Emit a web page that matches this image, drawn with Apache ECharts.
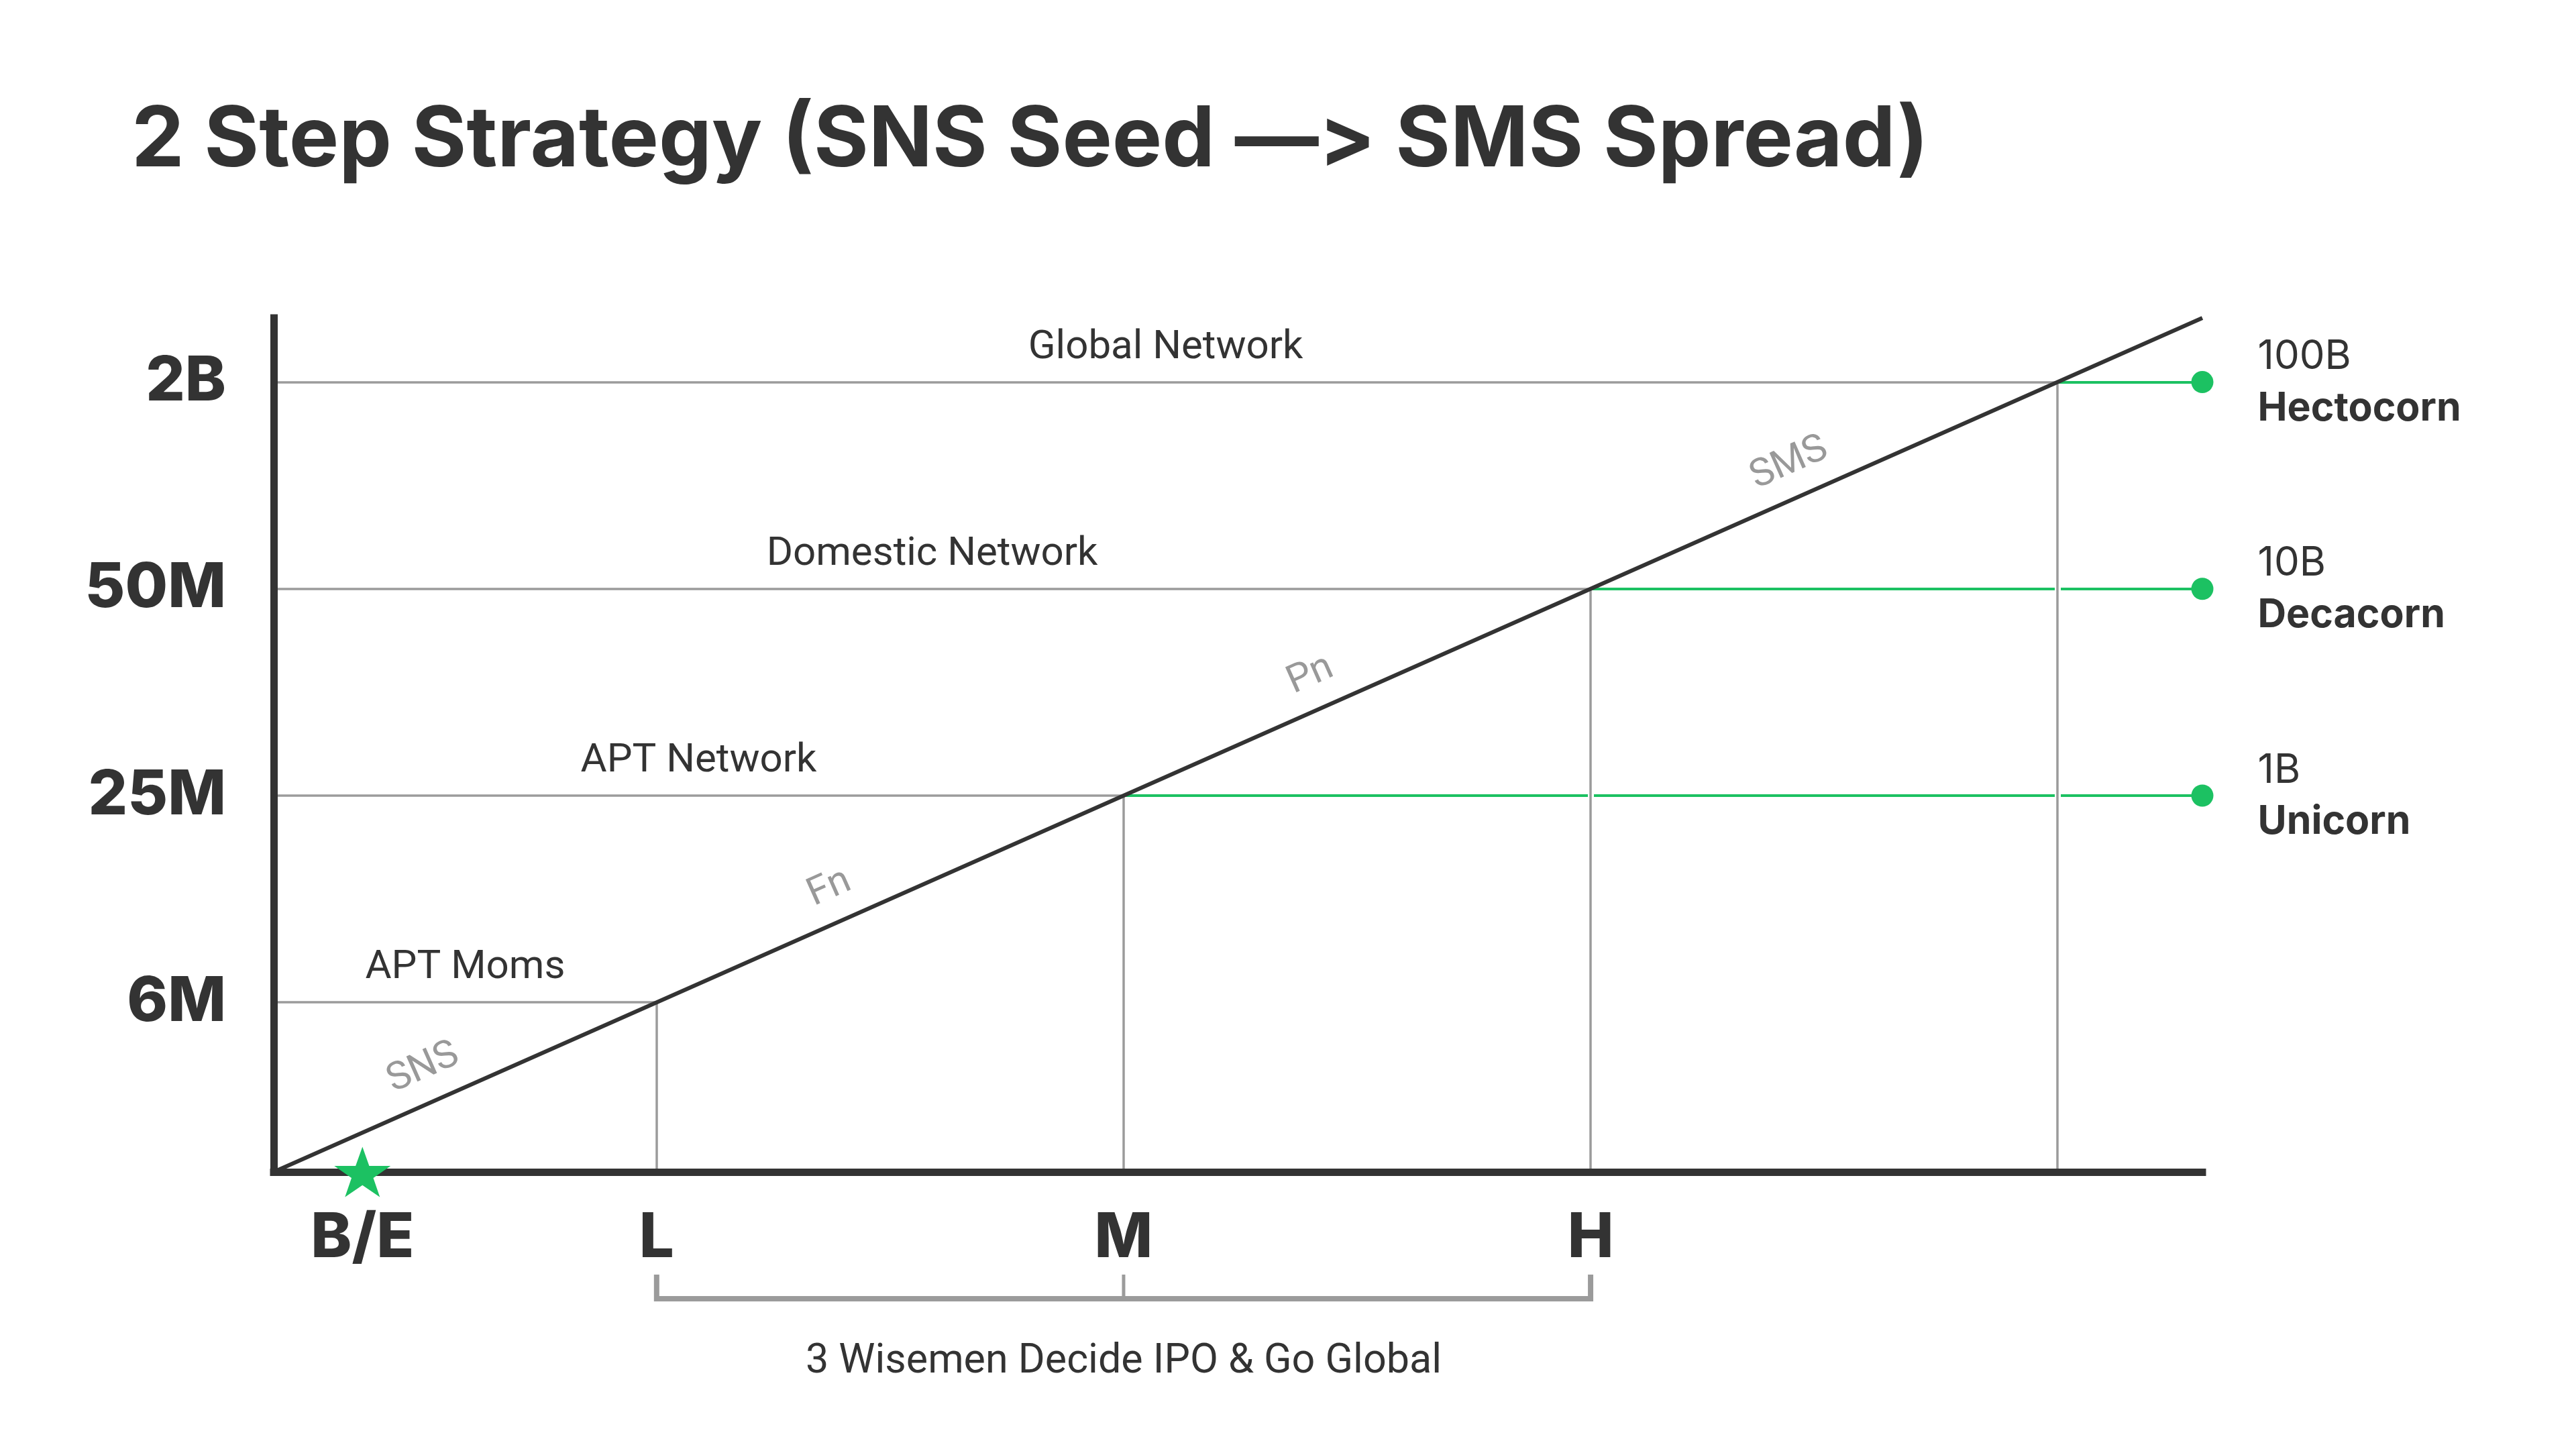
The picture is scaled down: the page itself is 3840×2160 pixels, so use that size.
<!DOCTYPE html>
<html><head><meta charset="utf-8">
<script src="https://cdn.jsdelivr.net/npm/echarts@6/dist/echarts.min.js"></script>
<style>html,body{margin:0;padding:0;background:#fff}#c{width:3840px;height:2160px}</style>
</head><body><div id="c"></div>
<script>
// ---------- data ----------
const titleText = '2 Step Strategy (SNS Seed \u2014\u200C> SMS Spread)';
const stageLabels = ['B/E', 'L', 'M', 'H'];
const stagePositions = [0.37, 1, 2, 3];
const userLevels = ['6M', '25M', '50M', '2B'];
const levelValues = [1, 2, 3, 4];
const networkNames = ['APT Moms', 'APT Network', 'Domestic Network', 'Global Network'];
const valuationLevels = [2, 3, 4];
const valuationAmounts = ['1B', '10B', '100B'];
const valuationNames = ['Unicorn', 'Decacorn', 'Hectocorn'];
const phaseNames = ['SNS', 'Fn', 'Pn', 'SMS'];
const phasePositions = [0.53, 1.40, 2.43, 3.455];
const bracketStages = [1, 2, 3];
const bracketLabel = '3 Wisemen Decide IPO & Go Global';
const axisMin = 0.18, axisMax = 4.31;

// ---------- styles ----------
const DARK = '#333333', GREY = '#9b9b9b', GREEN = '#1cc162', PHASE = '#808080';
const BOLD_FONT = 'Inter', TEXT_FONT = 'Roboto';
const STAR = 'path://M50,0 L61.8,35.1 L98.9,35.1 L68.9,56.8 L80.3,91.9 L50,70.2 L19.7,91.9 L31.1,56.8 L1.1,35.1 L38.2,35.1 Z';

const growth = [[axisMin, axisMin]].concat(levelValues.map(v => [v, v]), [[axisMax, axisMax]]);
const nearestIdx = (arr, v) => arr.reduce((b, x, i) => Math.abs(x - v) < Math.abs(arr[b] - v) ? i : b, 0);

const chart = echarts.init(document.getElementById('c'), null, {renderer: 'canvas'});
const option = {
  animation: false,
  backgroundColor: '#fff',
  title: {
    text: titleText, left: 191, top: 143,
    textStyle: {fontFamily: BOLD_FONT, fontWeight: 700, fontSize: 125, color: DARK}
  },
  grid: {left: 408, right: 557, top: 474, bottom: 413, containLabel: false, outerBoundsMode: 'none'},
  xAxis: {
    type: 'value', min: axisMin, max: axisMax, z: 8,
    axisLine: {show: true, onZero: false, lineStyle: {color: DARK, width: 11, cap: 'square'}},
    axisTick: {show: false}, splitLine: {show: false},
    axisLabel: {
      customValues: stagePositions,
      formatter: v => stageLabels[nearestIdx(stagePositions, v)],
      fontFamily: BOLD_FONT, fontWeight: 800, fontSize: 92, color: DARK,
      verticalAlign: 'middle', margin: 99
    }
  },
  yAxis: {
    type: 'value', min: axisMin, max: axisMax, z: 8,
    axisLine: {show: true, onZero: false, lineStyle: {color: DARK, width: 11, cap: 'square'}},
    axisTick: {show: false}, splitLine: {show: false},
    axisLabel: {
      customValues: levelValues,
      formatter: v => userLevels[nearestIdx(levelValues, v)],
      fontFamily: BOLD_FONT, fontWeight: 800, fontSize: 92, color: DARK, margin: 71,
      padding: [6, 0, 0, 0]
    }
  },
  series: [
    { // green valuation lines
      type: 'lines', coordinateSystem: 'cartesian2d', z: 2, silent: true,
      lineStyle: {color: GREEN, width: 4, opacity: 1},
      data: valuationLevels.map(v => ({coords: [[v, v], [axisMax, v]]}))
    },
    { // white gaps behind vertical guides
      type: 'lines', coordinateSystem: 'cartesian2d', z: 3, silent: true,
      lineStyle: {color: '#ffffff', width: 9, opacity: 1},
      data: levelValues.map(v => ({coords: [[v, axisMin], [v, v - 0.08]]}))
    },
    { // vertical grey guides
      type: 'lines', coordinateSystem: 'cartesian2d', z: 4, silent: true,
      lineStyle: {color: GREY, width: 3.5, opacity: 1},
      data: levelValues.map(v => ({coords: [[v, axisMin], [v, v]]}))
    },
    { // horizontal grey guides with network names
      type: 'lines', coordinateSystem: 'cartesian2d', z: 4, silent: true,
      lineStyle: {color: GREY, width: 3.5, opacity: 1},
      label: {show: true, position: 'middle', formatter: '{b}', distance: 21,
        fontFamily: TEXT_FONT, fontSize: 60, color: DARK},
      data: levelValues.map((v, i) => ({name: networkNames[i], coords: [[axisMin, v], [v, v]]}))
    },
    { // growth path
      type: 'line', z: 6, silent: true, symbol: 'none', clip: false,
      lineStyle: {color: DARK, width: 6},
      data: growth
    },
    { // phase labels along the path
      type: 'scatter', z: 7, silent: true, symbolSize: 1,
      itemStyle: {color: 'rgba(0,0,0,0)'},
      label: {show: true, position: 'inside', formatter: '{b}', rotate: 23.9, offset: [0, -51],
        fontFamily: TEXT_FONT, fontSize: 58, color: PHASE},
      data: phasePositions.map((x, i) => ({name: phaseNames[i], value: [x, x]}))
    },
    { // valuation dots
      type: 'scatter', z: 7, silent: true, clip: false, symbolSize: 33,
      itemStyle: {color: GREEN, opacity: 1},
      label: {show: true, position: 'right', distance: 66, offset: [0, 1],
        formatter: p => '{a|' + valuationAmounts[p.dataIndex] + '}\n{b|' + valuationNames[p.dataIndex] + '}',
        rich: {
          a: {fontFamily: BOLD_FONT, fontWeight: 400, fontSize: 60, lineHeight: 77, color: DARK},
          b: {fontFamily: BOLD_FONT, fontWeight: 700, fontSize: 59, lineHeight: 77, color: DARK}
        }},
      data: valuationLevels.map(v => [axisMax, v])
    },
    { // break-even star
      type: 'scatter', z: 10, silent: true, clip: false, symbol: STAR, symbolKeepAspect: true,
      symbolSize: [84, 80], itemStyle: {color: GREEN, opacity: 1},
      data: [[stagePositions[0], axisMin]]
    }
  ]
};
chart.setOption(option);

// bracket under L..H, positioned from the axis scale
const px = bracketStages.map(s => chart.convertToPixel({xAxisIndex: 0, yAxisIndex: 0}, [s, axisMin]));
const axisY = px[0][1];
const yTop = axisY + 153, yBar = axisY + 189;
const xs = px.map(p => p[0]);
chart.setOption({
  graphic: [
    {type: 'polyline', silent: true, shape: {points: [[xs[0], yTop], [xs[0], yBar], [xs[2], yBar], [xs[2], yTop]]},
      style: {stroke: GREY, lineWidth: 8, fill: null, lineJoin: 'miter'}},
    {type: 'line', silent: true, shape: {x1: xs[1], y1: yTop, x2: xs[1], y2: yBar},
      style: {stroke: GREY, lineWidth: 5}},
    {type: 'text', silent: true, x: xs[1], y: axisY + 284,
      style: {text: bracketLabel, fill: DARK, font: '61px ' + TEXT_FONT, textAlign: 'center', textVerticalAlign: 'middle'}}
  ]
});
</script></body></html>
